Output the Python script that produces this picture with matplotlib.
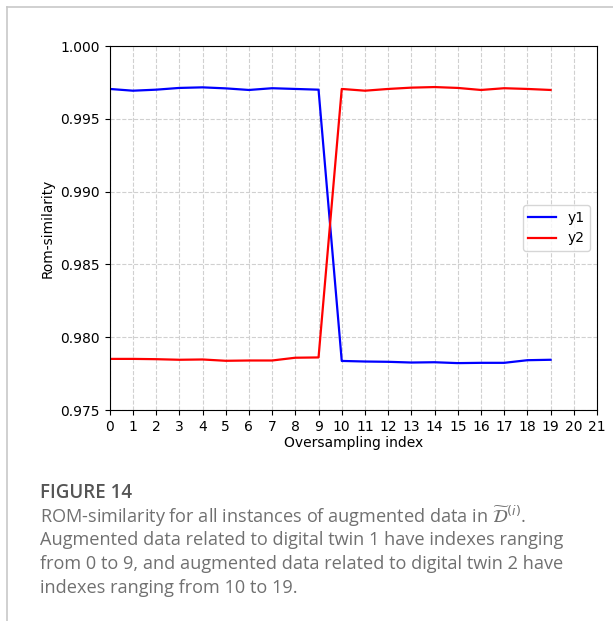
import matplotlib.pyplot as plt
from matplotlib.lines import Line2D
import numpy as np

# ROM-similarity per oversampling index, one curve per digital twin
idx = list(range(20))
y1 = [0.99705, 0.99693, 0.99700, 0.99712, 0.99716, 0.99709, 0.99698, 0.99710, 0.99705, 0.99700,
      0.97837, 0.97833, 0.97831, 0.97826, 0.97828, 0.97822, 0.97824, 0.97824, 0.97842, 0.97845]
y2 = [0.97851, 0.97851, 0.97849, 0.97845, 0.97847, 0.97838, 0.97840, 0.97840, 0.97859, 0.97861,
      0.99705, 0.99693, 0.99705, 0.99714, 0.99718, 0.99712, 0.99698, 0.99710, 0.99705, 0.99698]
yticks = [0.975, 0.980, 0.985, 0.990, 0.995, 1.000]

caption_title = "FIGURE 14"
caption_lines = [
    r"ROM-similarity for all instances of augmented data in $\widetilde{\mathcal{D}}^{(i)}$.",
    "Augmented data related to digital twin 1 have indexes ranging",
    "from 0 to 9, and augmented data related to digital twin 2 have",
    "indexes ranging from 10 to 19.",
]

W, H = 613, 621
fig = plt.figure(figsize=(W / 100, H / 100), dpi=100)
ax = fig.add_axes([109.7 / W, 1 - 410 / H, (597 - 109.7) / W, (410 - 46) / H])

ax.plot(idx, y1, color="blue", lw=1.6, label="y1")
ax.plot(idx, y2, color="red", lw=1.6, label="y2")
ax.set_xlim(0, 21)
ax.set_ylim(0.975, 1.000)
ax.set_xticks(range(22))
ax.set_yticks(yticks)
ax.set_yticklabels([f"{v:.3f}" for v in yticks])
ax.tick_params(labelsize=10)
ax.grid(True, ls="--", color="#d0d0d0", lw=0.8)
ax.set_xlabel("Oversampling index", fontsize=10, labelpad=2)
ax.set_ylabel("Rom-similarity", fontsize=9.8, labelpad=4)
ax.legend(loc="center right", fontsize=10, handlelength=2)

# page frame around the figure block
frame = "#c8c8c8"
fig.add_artist(Line2D([7 / W, 1], [1 - 7 / H, 1 - 7 / H], color=frame, lw=1.2))
fig.add_artist(Line2D([7 / W, 7 / W], [0, 1 - 7 / H], color=frame, lw=1.2))

txt = "#707070"
fig.text(40 / W, 1 - 493 / H, caption_title, fontsize=13.5, color="#555555",
         family="Open Sans", weight="semibold", va="center")
for k, line in enumerate(caption_lines):
    fig.text(40 / W, 1 - (516 + 24 * k) / H, line, fontsize=13.05, color=txt,
             family="Open Sans", va="center")

fig.savefig("out.png", dpi=100)
